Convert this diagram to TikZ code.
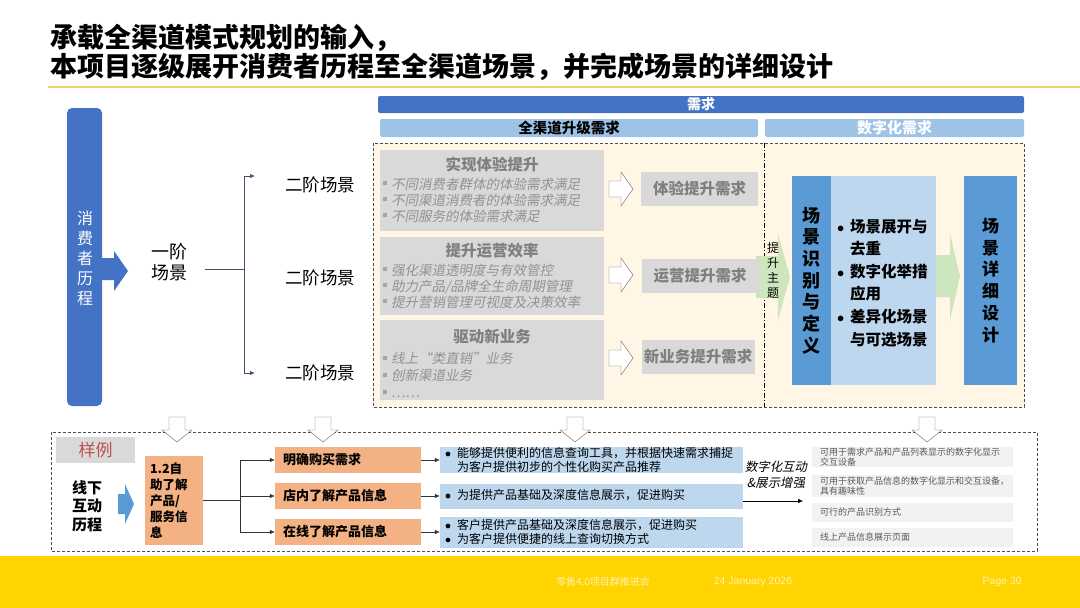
\documentclass[tikz,border=0pt]{standalone}
\usepackage{fontspec}
\setmainfont{Noto Sans CJK SC}[AutoFakeSlant=0.2]
\newfontfamily\footfont{Liberation Sans}
\usetikzlibrary{arrows.meta,positioning}
\definecolor{hdblue}{HTML}{4472C4}
\definecolor{midblue}{HTML}{5B9BD5}
\definecolor{paleblue}{HTML}{9DC3E6}
\definecolor{iceblue}{HTML}{BDD7EE}
\definecolor{boxgray}{HTML}{D9D9D9}
\definecolor{optgray}{HTML}{F2F2F2}
\definecolor{txtgray}{HTML}{7F7F7F}
\definecolor{optink}{HTML}{595959}
\definecolor{cream}{HTML}{FFF6E5}
\definecolor{peach}{HTML}{F4B183}
\definecolor{leaf}{HTML}{CDE6BD}
\definecolor{gold}{HTML}{FFD400}
\definecolor{rule}{HTML}{F3CF6A}
\definecolor{slate}{HTML}{44546A}
\definecolor{brick}{HTML}{C0504D}
\newcommand{\fsz}[2]{\fontsize{#1}{#2}\selectfont}
\newcommand{\sqb}{{\color{txtgray!70}\rule[0.3em]{0.28em}{0.28em}}\hspace{0.3em}}
\newcommand{\dotb}{\llap{$\bullet$\hspace{6pt}}}
\tikzset{
  rarrow/.pic={\draw[black!60,fill=white] (-12,-8) -- (0,-8) -- (0,-17) -- (12,0) -- (0,17) -- (0,8) -- (-12,8) -- cycle;},
  darrow/.pic={\draw[black!60,fill=white] (-8,-13) -- (8,-13) -- (8,0) -- (15,0) -- (0,12) -- (-15,0) -- (-8,0) -- cycle;}
}
\begin{document}
\begin{tikzpicture}[x=1pt,y=-1pt,every node/.style={inner sep=0pt},
  graybox/.style={fill=boxgray,minimum width=224,minimum height=#1},
  needbox/.style={fill=boxgray,minimum width=117,minimum height=34,text=txtgray,font=\fsz{15.5}{16}\bfseries},
  peachbox/.style={fill=peach,minimum width=146,minimum height=26,text width=130,align=left,font=\fsz{13}{15}\bfseries},
  infobox/.style={fill=iceblue,minimum width=303,minimum height=#1},
  tip/.style={-{Latex[length=5pt,width=4.5pt]}}]
\useasboundingbox (0,0) rectangle (1080,608);
% title
\node[anchor=west,align=left,font=\fsz{27}{27}\bfseries] (title) at (50,52.5) {承载全渠道模式规划的输入，\\本项目逐级展开消费者历程至全渠道场景，并完成场景的详细设计};
\draw[rule,line width=1.2pt] (48,87) -- (1080,87);
% consumer journey
\fill[hdblue,rounded corners=5pt] (67,108) rectangle (102,406);
\fill[hdblue] (101,258) -- (114,258) -- (114,251) -- (128,271) -- (114,291) -- (114,280) -- (101,280) -- cycle;
\node[align=center,text=white,font=\fsz{16}{20}] (journey) at (85,258) {消\\费\\者\\历\\程};
\node[align=center,font=\fsz{18}{21}] (lv1) at (169,262) {一阶\\场景};
\foreach \i/\y in {1/185,2/278,3/373} {\node[font=\fsz{17.5}{20}] (lv2\i) at (320,\y) {二阶场景};}
\coordinate (lv1o) at (205,269); \coordinate (fork) at (244,269);
\coordinate (t1) at (255,176); \coordinate (t3) at (255,373);
\draw[slate,thick] (lv1o) -- (fork);
\draw[slate,thick,tip] (fork) |- (t1);
\draw[slate,thick,tip] (fork) |- (t3);
% header bars
\node[fill=hdblue,rounded corners=2pt,minimum width=646,minimum height=17,text=white,font=\fsz{14}{14}\bfseries] (need) at (701,104.5) {需求};
\node[fill=paleblue,rounded corners=2pt,minimum width=378,minimum height=18,font=\fsz{14.5}{14.5}\bfseries] (omni) at (569,128) {全渠道升级需求};
\node[fill=paleblue,rounded corners=2pt,minimum width=259,minimum height=18,text=white,font=\fsz{15}{15}\bfseries] (digi) at (894.5,128) {数字化需求};
% demand area
\draw[black!70,dash pattern=on 3pt off 2pt,fill=cream] (373,143) rectangle (1024,407);
\draw[black,dash pattern=on 5pt off 2pt on 1pt off 2pt] (764,143) -- (764,407);
\fill[leaf] (756,256) -- (778,256) -- (778,234) -- (790,277) -- (778,320) -- (778,298) -- (756,298) -- cycle;
\fill[leaf] (936,255) -- (950,255) -- (950,234) -- (960,276) -- (950,320) -- (950,297) -- (936,297) -- cycle;
\node[graybox=81] (g1) at (492,190.5) {};
\node[graybox=78] (g2) at (492,276) {};
\node[graybox=80] (g3) at (492,360) {};
\node[font=\fsz{15.5}{16}\bfseries,text=txtgray] (g1t) at (492,164) {实现体验提升};
\node[font=\fsz{15.5}{16}\bfseries,text=txtgray] (g2t) at (492,251) {提升运营效率};
\node[font=\fsz{15.5}{16}\bfseries,text=txtgray] (g3t) at (492,337) {驱动新业务};
\node[anchor=west,align=left,font=\fsz{13.5}{16}\itshape,text=txtgray!85] (g1b) at (383,200) {\sqb 不同消费者群体的体验需求满足\\\sqb 不同渠道消费者的体验需求满足\\\sqb 不同服务的体验需求满足};
\node[anchor=west,align=left,font=\fsz{13.5}{16}\itshape,text=txtgray!85] (g2b) at (383,286) {\sqb 强化渠道透明度与有效管控\\\sqb 助力产品/品牌全生命周期管理\\\sqb 提升营销管理可视度及决策效率};
\node[anchor=west,align=left,font=\fsz{13.5}{17}\itshape,text=txtgray!85] (g3b) at (383,375) {\sqb 线上“类直销”业务\\\sqb 创新渠道业务\\\sqb ……};
\foreach \y in {189,275,358} {\pic at (621,\y) {rarrow};}
\node[needbox] (n1) at (699.5,189) {体验提升需求};
\node[needbox] (n2) at (700,275.5) {运营提升需求};
\node[needbox,minimum width=113] (n3) at (698,356.5) {新业务提升需求};
\node[align=center,font=\fsz{12}{15}] (theme) at (773,270) {提\\升\\主\\题};
\node[fill=midblue,minimum width=39,minimum height=209,align=center,font=\fsz{18}{21.7}\bfseries] (ident) at (811.5,280.5) {场\\景\\识\\别\\与\\定\\义};
\node[fill=iceblue,minimum width=105,minimum height=209] (expand) at (883.5,280.5) {};
\node[anchor=west,align=left,font=\fsz{15.5}{22.6}\bfseries] (expandt) at (850,283) {\dotb 场景展开与\\去重\\\dotb 数字化举措\\应用\\\dotb 差异化场景\\与可选场景};
\node[fill=midblue,minimum width=53,minimum height=209,align=center,font=\fsz{17}{21.8}\bfseries] (detail) at (990.5,280.5) {场\\景\\详\\细\\设\\计};
% sample
\draw[black!70,dash pattern=on 3pt off 2pt] (51,432) rectangle (1037,551);
\foreach \x in {177,323,575,927} {\pic at (\x,430) {darrow};}
\node[fill=boxgray,minimum width=79,minimum height=26,text=brick,font=\fsz{17}{17}] (sample) at (95.5,450) {样例};
\node[align=center,font=\fsz{15}{18.5}\bfseries] (offline) at (87,506) {线下\\互动\\历程};
\fill[midblue] (118,494) -- (125,494) -- (125,484) -- (134,504) -- (125,524) -- (125,514) -- (118,514) -- cycle;
\node[fill=peach,minimum width=58,minimum height=89,text width=48,align=left,font=\fsz{12.5}{16}\bfseries] (self) at (174,500.5) {1.2自\\助了解\\产品/\\服务信\\息};
\foreach \i/\y/\t in {1/460/明确购买需求,2/496/店内了解产品信息,3/532/在线了解产品信息} {\node[peachbox] (buy\i) at (348,\y) {\t};}
\coordinate (fork2) at (240,500.5);
\draw[black!80] (self.east) -- (fork2);
\foreach \i in {1,2,3} {\draw[black!80,tip] (fork2) |- (buy\i.west);}
\node[infobox=26] (info1) at (591.5,460) {};
\node[infobox=25] (info2) at (591.5,496) {};
\node[infobox=31] (info3) at (591.5,532) {};
\foreach \i in {1,2,3} {\draw[black!80,tip] (buy\i.east) -- (info\i.west);}
\node[anchor=west,align=left,font=\fsz{12}{14}] (info1t) at (457,460) {\dotb 能够提供便利的信息查询工具，并根据快速需求捕捉\\为客户提供初步的个性化购买产品推荐};
\node[anchor=west,align=left,font=\fsz{12}{14}] (info2t) at (457,495) {\dotb 为提供产品基础及深度信息展示，促进购买};
\node[anchor=west,align=left,font=\fsz{12}{14}] (info3t) at (457,532) {\dotb 客户提供产品基础及深度信息展示，促进购买\\\dotb 为客户提供便捷的线上查询切换方式};
\node[align=center,font=\fsz{12.4}{16}\itshape] (digital) at (776,475) {数字化互动\\\&展示增强};
\coordinate (dgs) at (743,501); \coordinate (dge) at (803,501);
\draw[black,tip] (dgs) -- (dge);
\foreach \i/\y/\h in {1/457/20,2/486/22,3/512.5/19,4/537.5/19} {\node[fill=optgray,minimum width=201,minimum height=\h] (opt\i) at (912.5,\y) {};}
\foreach \i/\y/\t in {1/457/{可用于需求产品和产品列表显示的数字化显示\\交互设备},2/486/{可用于获取产品信息的数字化显示和交互设备，\\具有趣味性},3/512.5/{可行的产品识别方式},4/537.5/{线上产品信息展示页面}} {\node[anchor=west,align=left,text=optink,font=\fsz{9}{10}] (opt\i t) at (820,\y) {\t};}
% footer
\fill[gold] (0,556) rectangle (1080,608);
\node[text=white!70!gold,font=\fsz{10}{10}] (meet) at (603,582) {零售4.0项目群推进会};
\node[text=white!70!gold,font=\footfont\fsz{10.5}{10.5}] (date) at (753,582) {24 January 2026};
\node[anchor=east,text=white!70!gold,font=\footfont\fsz{10.5}{10.5}] (page) at (1022,582) {Page 30};
\end{tikzpicture}
\end{document}
